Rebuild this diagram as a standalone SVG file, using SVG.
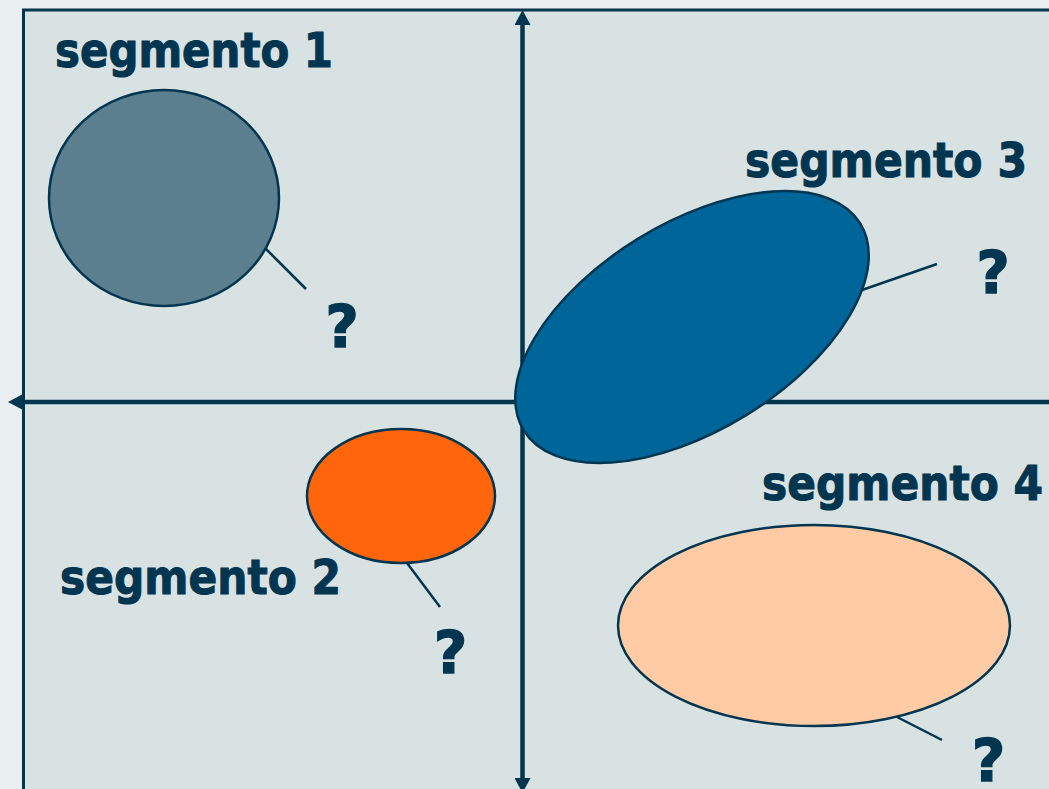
<svg xmlns="http://www.w3.org/2000/svg" width="1049" height="789" viewBox="0 0 1049 789">
<style>
.lbl{font-family:"DejaVu Sans","Verdana",sans-serif;font-weight:bold;font-size:48px;fill:#023550;stroke:#023550;stroke-width:1.1}
.q{font-family:"DejaVu Sans","Verdana",sans-serif;font-weight:bold;font-size:58px;fill:#023550;stroke:#023550;stroke-width:1.3;text-anchor:middle}
.ell{stroke:#023550;stroke-width:2.5}
.lead{stroke:#023550;stroke-width:2.5;fill:none}
.axis{stroke:#023550;stroke-width:4.5;fill:none}
</style>
<defs>
<marker id="ah" markerUnits="userSpaceOnUse" markerWidth="16" markerHeight="16" refX="0" refY="8" orient="auto-start-reverse" viewBox="0 0 16 16">
<path d="M0,0 L15,8 L0,16 Z" fill="#023550"/>
</marker>
</defs>
<rect x="0" y="0" width="1049" height="789" fill="#e9eef0"/>
<rect x="23.5" y="10" width="1040" height="800" fill="#d9e2e2" stroke="#023550" stroke-width="3"/>
<g id="connectors">
<line class="axis" x1="522.5" y1="778" x2="522.5" y2="25" marker-start="url(#ah)" marker-end="url(#ah)"/>
<line class="axis" x1="1060" y1="402" x2="23" y2="402" marker-end="url(#ah)"/>
<line class="lead" x1="265" y1="248" x2="306" y2="289"/>
<line class="lead" x1="862" y1="290" x2="937" y2="264"/>
<line class="lead" x1="407" y1="563" x2="440" y2="607"/>
<line class="lead" x1="897" y1="717" x2="942" y2="740"/>
</g>
<g id="segmento1">
<ellipse class="ell" cx="164" cy="198" rx="115" ry="108" fill="#5b7f8e"/>
<text class="lbl" x="55" y="67" textLength="278" lengthAdjust="spacingAndGlyphs">segmento 1</text>
<text class="q" x="342" y="347">?</text>
</g>
<g id="segmento3">
<ellipse class="ell" cx="692" cy="327" rx="197.5" ry="103.5" fill="#006699" transform="rotate(-31.6 692 327)"/>
<text class="lbl" x="745" y="177" textLength="282" lengthAdjust="spacingAndGlyphs">segmento 3</text>
<text class="q" x="993" y="293">?</text>
</g>
<g id="segmento2">
<ellipse class="ell" cx="401" cy="496" rx="94" ry="67" fill="#ff660b"/>
<text class="lbl" x="60" y="594" textLength="281" lengthAdjust="spacingAndGlyphs">segmento 2</text>
<text class="q" x="450.5" y="673">?</text>
</g>
<g id="segmento4">
<ellipse class="ell" cx="814" cy="625.5" rx="196" ry="100.5" fill="#fecba4"/>
<text class="lbl" x="762" y="500" textLength="281" lengthAdjust="spacingAndGlyphs">segmento 4</text>
<text class="q" x="988.5" y="781">?</text>
</g>
</svg>
